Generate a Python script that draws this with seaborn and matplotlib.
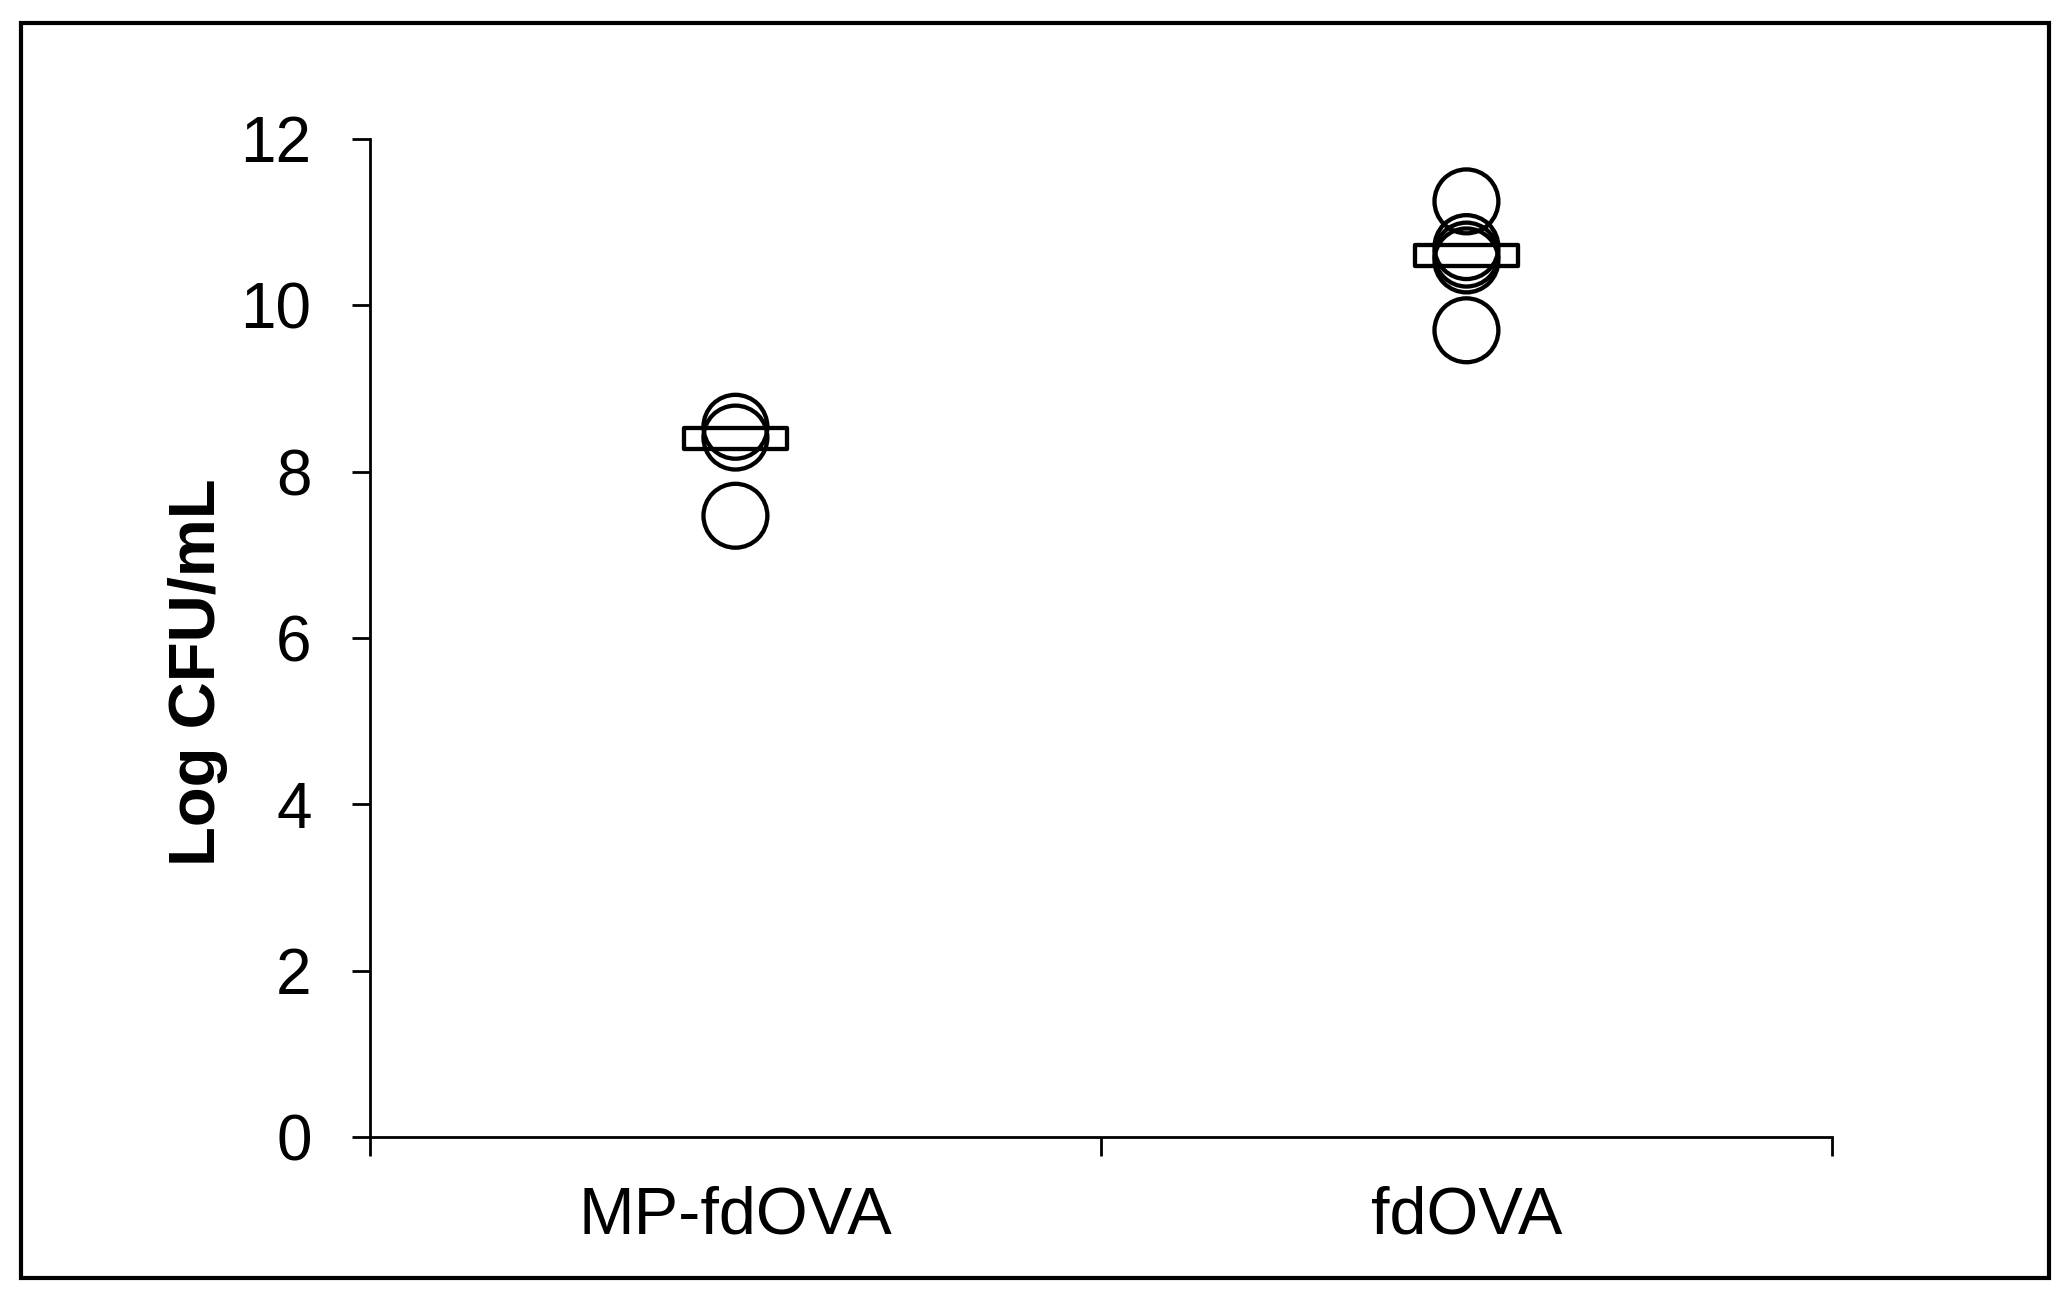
import numpy as np
import pandas as pd
import matplotlib
matplotlib.use("Agg")
import matplotlib.pyplot as plt
from matplotlib.path import Path
from matplotlib.patches import Rectangle
import seaborn as sns

# values
groups = ["MP-fdOVA", "fdOVA"]
mp_fdova = [8.54, 8.41, 7.47]
fdova = [11.25, 10.70, 10.61, 10.54, 9.70]
group_means = [8.40, 10.60]

dp = pd.DataFrame({
    "Group": [groups[0]] * len(mp_fdova) + [groups[1]] * len(fdova),
    "LogCFU": mp_fdova + fdova,
})
dm = pd.DataFrame({"Group": groups, "Mean": group_means})

sns.set_style("white")
plt.rcParams["font.family"] = ["Liberation Sans", "DejaVu Sans"]
plt.rcParams["text.color"] = "black"
plt.rcParams["axes.labelcolor"] = "black"
plt.rcParams["xtick.color"] = "black"
plt.rcParams["ytick.color"] = "black"

fig = plt.figure(figsize=(20.7, 12.99), dpi=100)
ax = fig.add_axes([0.1787, 0.1247, 0.7063, 0.7683])

# open circles for each sample
sns.scatterplot(data=dp, x="Group", y="LogCFU", marker="o", s=46 ** 2,
                color="black", edgecolor="black", linewidth=3.1, ax=ax, zorder=3)
for c in ax.collections:
    c.set_facecolor("none")

# flat rectangle marker for group mean
box = Path([(-5, -1), (5, -1), (5, 1), (-5, 1), (-5, -1)],
           [Path.MOVETO, Path.LINETO, Path.LINETO, Path.LINETO, Path.CLOSEPOLY])
n0 = len(ax.collections)
sns.scatterplot(data=dm, x="Group", y="Mean", marker=box, s=74 ** 2,
                color="black", edgecolor="black", linewidth=3.1, ax=ax, zorder=4)
for c in ax.collections[n0:]:
    c.set_facecolor("none")

ax.set_xlim(-0.5, 1.5)
ax.set_ylim(0, 12)
ax.set_yticks([0, 2, 4, 6, 8, 10, 12])
ax.set_xticks([-0.5, 0.5, 1.5], labels=["", "", ""])
ax.set_xticks([0, 1], labels=groups, minor=True)

for s in ["top", "right"]:
    ax.spines[s].set_visible(False)
for s in ["left", "bottom"]:
    ax.spines[s].set_linewidth(2)
    ax.spines[s].set_color("black")

ax.tick_params(axis="y", which="major", direction="out", length=13, width=2,
               color="black", labelsize=46, pad=29, left=True)
ax.tick_params(axis="x", which="major", direction="out", length=14, width=2,
               color="black", bottom=True)
ax.tick_params(axis="x", which="minor", length=0, labelsize=48, pad=35)

ax.set_xlabel("")
ax.set_ylabel("Log CFU/mL", fontsize=47, fontweight="bold")
ax.yaxis.set_label_coords(-0.097, 0.466)

# outer frame around the whole chart
fig.patches.append(Rectangle((21 / 2070, 1 - 1278 / 1299), (2049 - 21) / 2070,
                             (1278 - 23) / 1299, transform=fig.transFigure,
                             fill=False, edgecolor="black", linewidth=3))

fig.savefig("out.png", dpi=100, facecolor="white")
